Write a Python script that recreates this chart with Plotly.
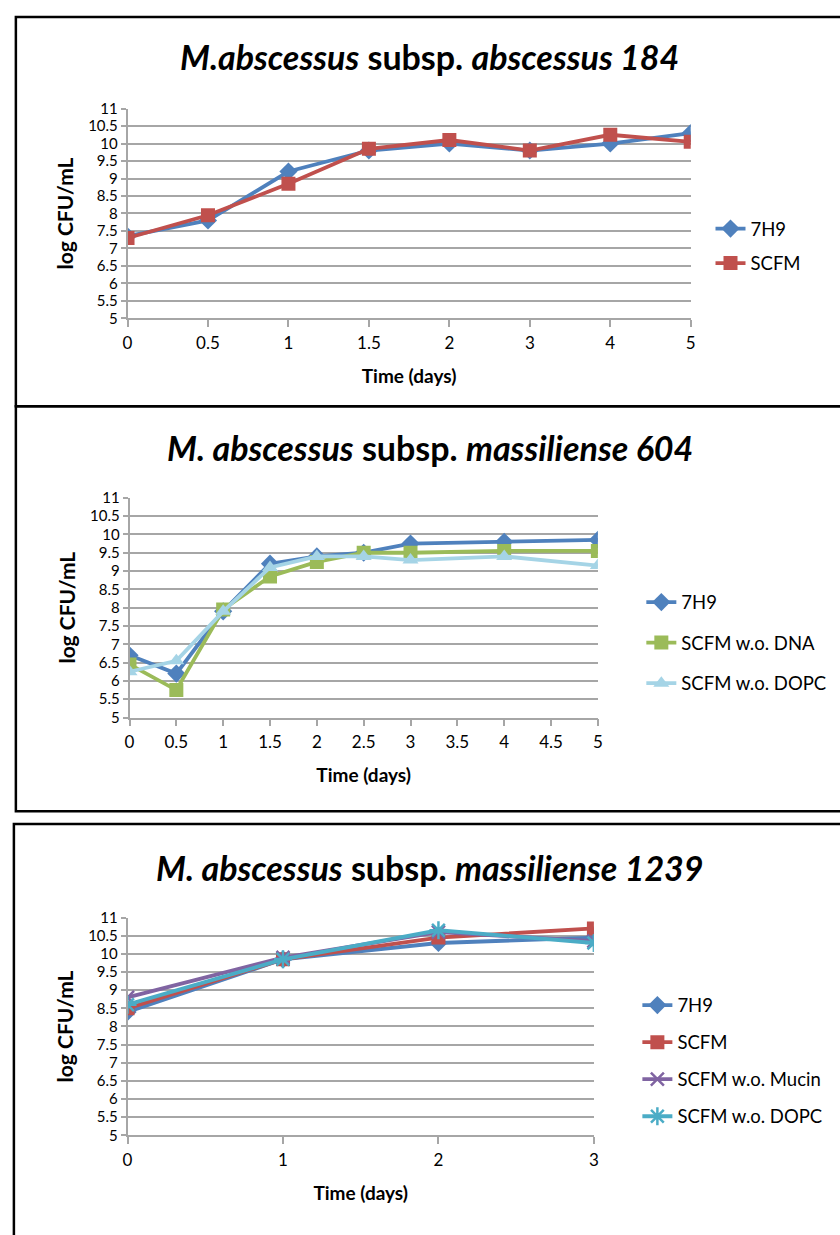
import plotly.graph_objects as go

W, H = 840, 1235

# ---------------- data ----------------
p1_days = ["0", "0.5", "1", "1.5", "2", "3", "4", "5"]
p1_7h9 = [7.35, 7.8, 9.2, 9.8, 10.0, 9.8, 10.0, 10.3]
p1_scfm = [7.3, 7.95, 8.85, 9.85, 10.1, 9.8, 10.25, 10.05]

p2_days = [0, 0.5, 1, 1.5, 2, 2.5, 3, 4, 5]
p2_7h9 = [6.7, 6.2, 7.9, 9.2, 9.4, 9.5, 9.75, 9.8, 9.85]
p2_no_dna = [6.45, 5.75, 7.95, 8.85, 9.25, 9.5, 9.5, 9.55, 9.55]
p2_no_dopc = [6.25, 6.55, 7.9, 9.1, 9.4, 9.4, 9.3, 9.4, 9.15]

p3_days = [0, 1, 2, 3]
p3_7h9 = [8.4, 9.85, 10.3, 10.45]
p3_scfm = [8.5, 9.85, 10.45, 10.7]
p3_no_mucin = [8.8, 9.9, 10.6, 10.35]
p3_no_dopc = [8.6, 9.85, 10.65, 10.3]

titles = [
    "<b><i>M.abscessus</i> subsp. <i>abscessus 184</i></b>",
    "<b><i>M. abscessus</i> subsp. <i>massiliense 604</i></b>",
    "<b><i>M. abscessus</i> subsp. <i>massiliense 1239</i></b>",
]

BLUE = "#4F81BD"
RED = "#C0504D"
GREEN = "#9BBB59"
LIGHTBLUE = "#A5D4E6"
PURPLE = "#8064A2"
TEAL = "#4BACC6"

FONT = "Lato"

def px_x(x):
    return x / W

def px_y(y):
    return 1 - y / H

fig = go.Figure()

def add(x, y, name, color, symbol, size, axis_idx, legend, lw=3.8, mline=None):
    xa = "x" if axis_idx == 1 else f"x{axis_idx}"
    ya = "y" if axis_idx == 1 else f"y{axis_idx}"
    marker = dict(symbol=symbol, size=size, color=color)
    if mline:
        marker["line"] = dict(color=color, width=mline)
    fig.add_trace(go.Scatter(
        x=x, y=y, name=name, mode="lines+markers",
        line=dict(color=color, width=lw), marker=marker,
        xaxis=xa, yaxis=ya, legend=legend, legendgroup=name + legend,
    ))

add(p1_days, p1_7h9, "7H9", BLUE, "diamond", 14, 1, "legend")
add(p1_days, p1_scfm, "SCFM", RED, "square", 14, 1, "legend")

add(p2_days, p2_7h9, "7H9", BLUE, "diamond", 14, 2, "legend2")
add(p2_days, p2_no_dna, "SCFM w.o. DNA", GREEN, "square", 14, 2, "legend2")
add(p2_days, p2_no_dopc, "SCFM w.o. DOPC", LIGHTBLUE, "triangle-up", 14, 2, "legend2")

add(p3_days, p3_7h9, "7H9", BLUE, "diamond", 14, 3, "legend3")
add(p3_days, p3_scfm, "SCFM", RED, "square", 14, 3, "legend3")
add(p3_days, p3_no_mucin, "SCFM w.o. Mucin", PURPLE, "x-thin-open", 13, 3, "legend3", mline=2.5)
add(p3_days, p3_no_dopc, "SCFM w.o. DOPC", TEAL, "asterisk-open", 15, 3, "legend3", mline=2.5)

# plot areas in pixels: (left, right, top, bottom)
areas = [(124, 694, 100, 313), (126, 600, 495, 718), (124, 596, 921, 1142)]

GRID = "#A6A6A6"
xtickfont = dict(family=FONT, size=17, color="#000000")
ytickfont = dict(family=FONT, size=15, color="#000000")
for i, (l, r, t, b) in enumerate(areas, start=1):
    sfx = "" if i == 1 else str(i)
    xaxis = dict(
        domain=[px_x(l), px_x(r)], anchor="y" + sfx,
        showgrid=False, showline=True, linecolor=GRID, linewidth=1.5,
        ticks="outside", ticklen=7, tickcolor=GRID, tickwidth=1.5,
        ticklabelstandoff=1,
        tickfont=xtickfont, zeroline=False,
        title=dict(text="<b>Time (days)</b>", font=dict(family=FONT, size=19, color="#000"), standoff=18),
    )
    if i == 1:
        xaxis.update(type="category", range=[0, len(p1_days) - 1])
    elif i == 2:
        xaxis.update(range=[0, 5], dtick=0.5, tick0=0)
    else:
        xaxis.update(range=[0, 3], dtick=1, tick0=0)
    yaxis = dict(
        domain=[px_y(b), px_y(t)], anchor="x" + sfx,
        range=[5, 11], dtick=0.5, tick0=5,
        showgrid=True, gridcolor=GRID, gridwidth=1.5,
        showline=True, linecolor=GRID, linewidth=1.5,
        ticks="outside", ticklen=5, tickcolor=GRID, tickwidth=1.5,
        tickfont=ytickfont, zeroline=False,
        title=dict(text="<b>log CFU/mL</b>", font=dict(family=FONT, size=21, color="#000"), standoff=9),
    )
    fig.layout["xaxis" + sfx] = xaxis
    fig.layout["yaxis" + sfx] = yaxis

legfont = dict(family=FONT, size=18.5, color="#000")
leg_common = dict(xanchor="left", yanchor="top", bgcolor="rgba(0,0,0,0)",
                  font=legfont, itemwidth=30)
fig.update_layout(
    legend=dict(x=px_x(714), y=px_y(203), tracegroupgap=7.5, **leg_common),
    legend2=dict(x=px_x(644), y=px_y(582), tracegroupgap=13.5, **leg_common),
    legend3=dict(x=px_x(640), y=px_y(991), tracegroupgap=10, **leg_common),
)

# titles
for txt, yy in zip(titles, [47, 444, 870]):
    fig.add_annotation(text=txt, x=px_x(430), y=px_y(yy), xref="paper", yref="paper",
                       showarrow=False, xanchor="center", yanchor="middle",
                       font=dict(family=FONT, size=34, color="#000"))

# panel frames
frames = [(11, 7, 870, 402), (11, 402, 870, 813), (9, 826, 870, 1260)]
for x0, y0, x1, y1 in frames:
    fig.add_shape(type="rect", xref="paper", yref="paper",
                  x0=px_x(x0), x1=px_x(x1), y0=px_y(y0), y1=px_y(y1),
                  line=dict(color="#000", width=2.5), layer="above")

fig.update_layout(
    width=W, height=H, margin=dict(l=0, r=0, t=0, b=0),
    paper_bgcolor="white", plot_bgcolor="white", showlegend=True,
)

fig.write_html("out.html")
